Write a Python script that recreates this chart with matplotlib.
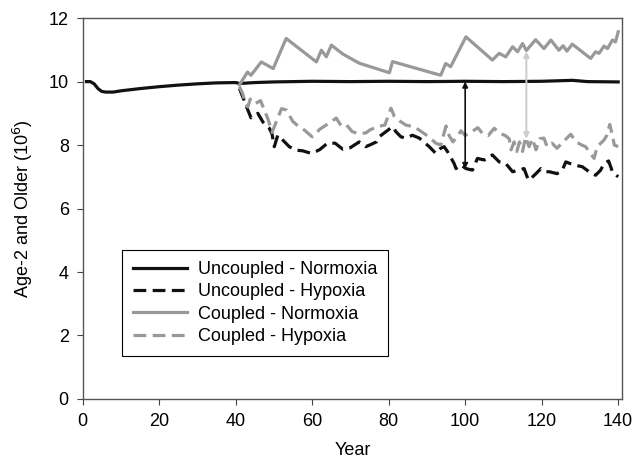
import numpy as np
from matplotlib import pyplot as plt

plt.rcParams['font.family'] = ['Liberation Sans', 'DejaVu Sans']

# Uncoupled - Normoxia
unc_norm_year = [1, 2, 3, 4, 5, 6, 8, 10, 15, 20, 25, 30, 35, 40, 41, 45, 50, 60, 70,
                 80, 90, 100, 110, 120, 128, 132, 140]
unc_norm_val = [10.0, 10.0, 9.93, 9.78, 9.69, 9.67, 9.67, 9.71, 9.78, 9.84, 9.89, 9.93,
                9.96, 9.97, 9.94, 9.97, 9.99, 10.01, 10.0, 10.01, 10.0, 10.01, 10.0,
                10.01, 10.04, 10.0, 9.99]

# Uncoupled - Hypoxia
unc_hyp_year = [41, 43, 44, 45.8, 47.1, 48.8, 49.5, 50.1, 51, 52.3, 54, 55.8, 57.5, 59.7,
                61, 62, 64, 66, 68, 70, 72.3, 74, 75, 76.8, 77.5, 81, 81.9, 83.2, 84.5,
                86.2, 88, 90.6, 92.3, 93.6, 94.5, 95.4, 97.1, 97.6, 98.9, 100.2, 101.9,
                103.2, 105, 107.1, 108.9, 110.6, 112.4, 113.6, 115.4, 116.5, 117.2, 118.5,
                119.8, 121, 122, 124, 125.4, 126.3, 128.5, 130.6, 132.4, 134.1, 135.4,
                136.3, 137.5, 138.5, 139.5, 140]
unc_hyp_val = [9.78, 9.16, 8.86, 9.0, 8.73, 8.53, 8.35, 7.95, 8.31, 8.16, 7.95, 7.84,
               7.82, 7.74, 7.8, 7.86, 8.06, 8.06, 7.87, 7.92, 8.1, 7.95, 8.0, 8.1, 8.26,
               8.58, 8.42, 8.26, 8.22, 8.31, 8.22, 7.95, 7.74, 7.9, 7.95, 7.79, 7.42,
               7.26, 7.37, 7.26, 7.21, 7.58, 7.53, 7.69, 7.47, 7.42, 7.16, 7.2, 7.26,
               6.9, 6.95, 7.1, 7.26, 7.16, 7.16, 7.1, 7.21, 7.47, 7.37, 7.32, 7.16, 7.05,
               7.21, 7.42, 7.5, 7.16, 7.05, 7.0]

# Coupled - Normoxia
cpl_norm_year = [41, 43.1, 44, 46.7, 49.8, 53.2, 61.1, 62.4, 63.7, 65, 68, 72.3, 80.2, 81,
                 93.6, 94.9, 96.2, 100.2, 107.1, 108.9, 110.6, 112.4, 113.7, 115, 116,
                 118.4, 120.6, 122.4, 124.5, 125.6, 126.6, 128, 132.8, 134.1, 135, 136.3,
                 137.2, 138.5, 139.3, 140]
cpl_norm_val = [9.9, 10.3, 10.2, 10.62, 10.41, 11.36, 10.62, 10.99, 10.78, 11.15, 10.87,
                10.58, 10.28, 10.63, 10.2, 10.57, 10.47, 11.41, 10.68, 10.89, 10.78, 11.1,
                10.94, 11.2, 10.98, 11.32, 11.04, 11.31, 10.99, 11.13, 10.96, 11.18,
                10.73, 10.94, 10.89, 11.12, 11.04, 11.31, 11.25, 11.57]

# Coupled - Hypoxia
cpl_hyp_year = [41, 41.9, 42.5, 43.2, 43.8, 45, 46.5, 47.5, 48.5, 49.5, 50.5, 52, 53.3,
                54.9, 56.5, 58, 60, 62, 64.5, 66.3, 67.6, 69, 70.5, 72, 74, 75, 77, 79,
                80.6, 81.5, 83, 84.5, 86.5, 88, 90.5, 92.3, 93.6, 95, 95.8, 96.8, 97.8,
                98.9, 100, 101.5, 103.3, 104.5, 106, 107.6, 109, 110.5, 111.5, 112,
                112.8, 113.5, 114.2, 115, 115.8, 116.7, 117.6, 118.5, 119.5, 120.6, 121.4,
                122.7, 124, 126, 127.6, 129, 130.5, 131.5, 132.4, 133.7, 134.5, 136.3,
                137, 137.8, 138.5, 139, 140]
cpl_hyp_val = [9.84, 9.6, 9.3, 9.2, 9.45, 9.3, 9.4, 9.1, 8.8, 8.4, 8.7, 9.15, 9.1, 8.75,
               8.58, 8.47, 8.26, 8.5, 8.7, 8.85, 8.6, 8.63, 8.42, 8.37, 8.38, 8.47, 8.58,
               8.63, 9.16, 8.9, 8.75, 8.63, 8.58, 8.47, 8.26, 8.06, 8.0, 8.6, 8.3, 8.1,
               8.25, 8.45, 8.3, 8.4, 8.55, 8.37, 8.3, 8.53, 8.37, 8.3, 8.2, 7.85, 8.1, 7.8,
               8.1, 7.8, 8.25, 7.95, 8.2, 7.85, 8.2, 8.22, 7.95, 8.06, 7.9, 8.15, 8.34,
               8.1, 8.0, 7.95, 7.79, 7.58, 7.95, 8.16, 8.3, 8.65, 8.3, 8.0, 7.95]

labels = ["Uncoupled - Normoxia", "Uncoupled - Hypoxia",
          "Coupled - Normoxia", "Coupled - Hypoxia"]

# arrows: (year, top, bottom)
black_arrow = (100, 10.0, 7.25)
gray_arrow = (116, 10.95, 8.2)

black = '#111111'
gray = '#999999'

fig = plt.figure(figsize=(6.36, 4.65), dpi=100)
ax = fig.add_axes([0.130, 0.142, 0.848, 0.819])

ax.plot(unc_norm_year, unc_norm_val, color=black, lw=2.3, label=labels[0])
ax.plot(unc_hyp_year, unc_hyp_val, color=black, lw=2.3, dashes=(4, 2), label=labels[1])
ax.plot(cpl_norm_year, cpl_norm_val, color=gray, lw=2.3, label=labels[2])
ax.plot(cpl_hyp_year, cpl_hyp_val, color=gray, lw=2.3, dashes=(4, 2), label=labels[3])

ax.annotate('', xy=(black_arrow[0], black_arrow[2]), xytext=(black_arrow[0], black_arrow[1]),
            arrowprops=dict(arrowstyle='<|-|>', color=black, lw=1.2,
                            mutation_scale=8, shrinkA=0, shrinkB=0))
ax.annotate('', xy=(gray_arrow[0], gray_arrow[2]), xytext=(gray_arrow[0], gray_arrow[1]),
            arrowprops=dict(arrowstyle='<|-|>', color='#cccccc', lw=1.4,
                            mutation_scale=8, shrinkA=0, shrinkB=0))

ax.set_xlim(0, 141)
ax.set_ylim(0, 12)
ax.set_xticks(np.arange(0, 141, 20))
ax.set_yticks(np.arange(0, 13, 2))
ax.tick_params(direction='out', length=4, width=0.8, labelsize=13, color='#444444',
               top=False, right=False, pad=6)
for s in ax.spines.values():
    s.set_color('#555555')
    s.set_linewidth(1.0)

ax.set_xlabel('Year', fontsize=13, labelpad=9)
ax.set_ylabel('Age-2 and Older (10$^6$)', fontsize=13, labelpad=10)

leg = ax.legend(loc='upper left', bbox_to_anchor=(0.073, 0.391), borderaxespad=0,
                fontsize=13, handlelength=3.0, handletextpad=0.6, labelspacing=0.3,
                borderpad=0.6, fancybox=False, framealpha=1, edgecolor='black')
leg.get_frame().set_linewidth(0.8)

plt.savefig('out.png', dpi=100)
